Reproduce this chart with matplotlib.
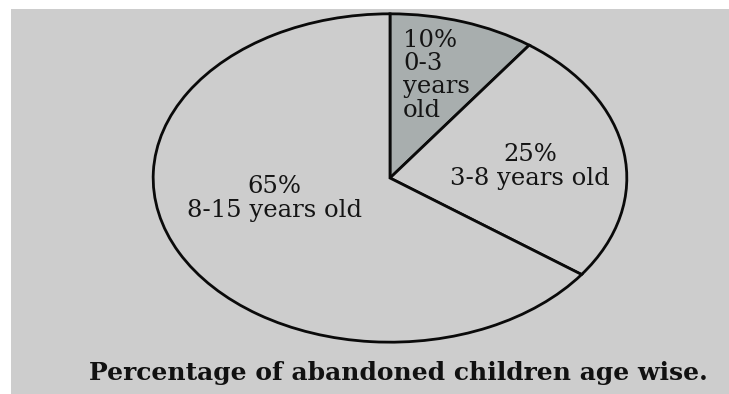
import matplotlib
matplotlib.use("Agg")
import matplotlib.pyplot as plt
from matplotlib.patches import Rectangle

labels = ["10%\n0-3\nyears\nold", "25%\n3-8 years old", "65%\n8-15 years old"]
values = [10, 25, 65]
colors = ["#a8aeae", "#cdcdcd", "#cdcdcd"]
title = "Percentage of abandoned children age wise."

W, H = 729, 394
fig = plt.figure(figsize=(W / 100, H / 100), dpi=100)
fig.patch.set_facecolor("white")
fig.patches.append(Rectangle((11 / W, 0), 1 - 11 / W, 1 - 9 / H,
                             transform=fig.transFigure, facecolor="#cdcdcd",
                             edgecolor="none", zorder=-10))

ax = fig.add_axes([152 / W, 1 - 343 / H, 476 / W, 330 / H])
ax.set_zorder(5)
ax.set_facecolor("none")
ax.pie(values, colors=colors, startangle=90, counterclock=False,
       radius=1.0, wedgeprops=dict(edgecolor="#0a0a0a", linewidth=2.0))
ax.set_aspect("auto")
ax.set_xlim(-1.005, 1.005)
ax.set_ylim(-1.005, 1.005)
ax.axis("off")

font = dict(family="DejaVu Serif", fontsize=17.5, color="#141414")
ax.text(0.055, 0.627, labels[0], ha="left", va="center", linespacing=1.02, **font)
ax.text(0.592, 0.07, labels[1], ha="center", va="center", linespacing=1.05, **font)
ax.text(-0.487, -0.124, labels[2], ha="center", va="center", linespacing=1.05, **font)

fig.text(398 / W, 1 - 373 / H, title, ha="center", va="center",
         family="DejaVu Serif", fontweight="bold", fontsize=18, color="#111111",
         zorder=6)

fig.savefig("out.png", dpi=100)
